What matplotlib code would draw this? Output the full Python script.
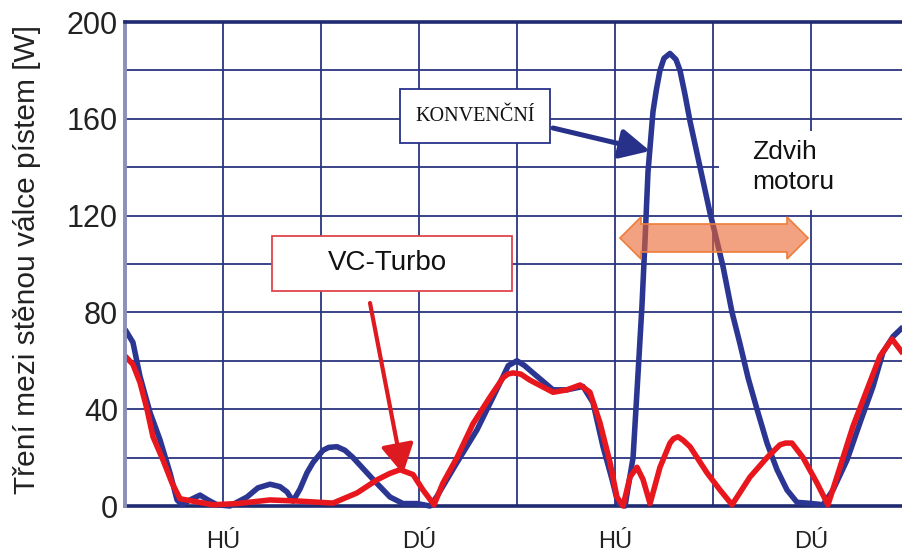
import matplotlib
matplotlib.use('Agg')
import matplotlib.pyplot as plt
import matplotlib.patches as mpatches
from matplotlib.ticker import MultipleLocator, FixedLocator, NullFormatter

# ---------------- data (crank angle in degrees, HÚ = 0) ----------------
crank_konv = [-90, -82.7, -76.2, -67.0, -57.9, -48.7, -42.2, -37.7, -30.3, -21.1,
              -13.8, -5.5, 6.4, 22.0, 32.1, 43.2, 52.3, 58.8, 64.3, 70.7,
              77.1, 82.7, 91.8, 97.0, 104.7, 112.0, 119.4, 137.8, 153.4, 165.3, 178.2, 190.1,
              196.5, 205.7, 214.9, 233.3, 248.0, 257.2, 262.0, 270.0, 277.0, 284.7, 303.1, 315.9,
              330.6, 339.8, 349.0, 357.3, 362.8, 369.2, 376.6, 381.2, 384.8, 387.6,
              390.3, 394.9, 398.0, 401.3, 405.0, 410.5, 416.0, 419.7, 424.3, 428.9, 438.1,
              447.3, 452.8, 459.2, 467.5, 474.8, 482.2, 490.4, 499.6, 508.8, 518.0, 527.2,
              536.3, 545.5, 551.0, 560.2, 573.1, 585.0, 597.0, 606.1, 615.3, 624.5]
friction_konv = [73, 67.6, 53.5, 38.6, 27.4, 13.7, 2.5, 0.5, 2.5, 4.5,
                 2.5, 0.5, 0, 3.7, 7.5, 9, 8, 5.8, 2, 7,
                 13.7, 18, 23, 24.2, 24.5, 23, 20, 11, 3.7, 1, 1, 0,
                 4, 11, 18, 31.5, 45, 53.5, 58, 60, 58, 55, 48, 48,
                 49.4, 42.7, 24.5, 11, 1, 0, 20, 55, 83, 110,
                 138, 163, 172, 180, 185, 187, 184.5, 180, 170, 159, 140,
                 121, 111, 99, 80, 67, 53, 40, 26, 15, 6.6, 1.5,
                 1.2, 0.8, 0.5, 6.6, 19, 34.4, 49.4, 63.5, 70, 74]

crank_vc = [-90, -82.7, -76.2, -69.8, -64.3, -55.1, -46.8, -39.5, -27.6, -9.2,
            12.9, 43.2, 70.7, 101.0, 123.1, 141.4, 153.4, 162.6, 174.5, 183.7,
            193.8, 202.0, 214.9, 229.6, 245.2, 257.2, 261.5, 266.3, 273.5, 281.9, 303.1, 315.9,
            327.9, 337.0, 346.2, 355.4, 361.8, 367.4, 373.8, 380.2, 385.7, 392.2,
            401.3, 410.5, 413.7, 417.9, 422.5, 428.9, 444.5, 456.5, 467.5, 484.0, 499.6, 511.5,
            516.6, 522.5, 532.7, 545.5, 555.6, 566.6, 578.6, 591.4, 603.4, 614.4, 624.5]
friction_vc = [62, 58.5, 51, 40, 28.6, 19, 9.5, 3, 2, 0.5,
               1, 2.5, 2, 1.2, 5.4, 10.8, 13.5, 15, 13, 6.6,
               0.5, 9.5, 20, 34, 45, 53, 54.5, 55, 54.5, 52, 47, 48,
               50, 47, 34.4, 18, 3.7, 0, 12, 16, 11, 1,
               16, 26, 27.8, 28.6, 27.2, 24.5, 13.7, 6.6, 0.5, 12, 20, 25.3,
               26, 26, 20, 9.5, 0.5, 16, 33, 48, 62, 69, 63]

stroke_ticks = [0, 180, 360, 540]
stroke_labels = ['HÚ', 'DÚ', 'HÚ', 'DÚ']
y_ticks = [0, 40, 80, 120, 160, 200]
y_label = 'Tření mezi stěnou válce pístem [W]'
label_konv = 'KONVENČNÍ'
label_vc = 'VC-Turbo'
label_stroke = 'Zdvih\nmotoru'

# ---------------- styling ----------------
NAVY = '#27318a'
GRID = '#2c3580'
BLUE = '#2b3692'
RED = '#e8161d'
TXT = '#222222'

X_MIN, X_MAX = -90, 624.5
Y_MIN, Y_MAX = 0, 200

W, H = 903, 553
fig = plt.figure(figsize=(W / 100, H / 100), dpi=100)
ax_l, ax_r, ax_t, ax_b = 125, 903, 22, 506
ax = fig.add_axes([ax_l / W, (H - ax_b) / H, (ax_r - ax_l) / W, (ax_b - ax_t) / H])
ax.set_xlim(X_MIN, X_MAX)
ax.set_ylim(Y_MIN, Y_MAX)

xpp = (X_MAX - X_MIN) / (ax_r - ax_l)   # data x per pixel
ypp = (Y_MAX - Y_MIN) / (ax_b - ax_t)   # data y per pixel

def px(xp, yp):
    """pixel position in the reference -> data coordinates (for annotations)"""
    return X_MIN + (xp - ax_l) * xpp, Y_MIN + (ax_b - yp) * ypp

fam = ['Liberation Sans', 'DejaVu Sans']

# grid
ax.xaxis.set_major_locator(FixedLocator(stroke_ticks))
ax.xaxis.set_minor_locator(MultipleLocator(90))
ax.xaxis.set_minor_formatter(NullFormatter())
ax.set_xticklabels(stroke_labels, fontsize=17, family=fam, color=TXT)
ax.yaxis.set_major_locator(FixedLocator(y_ticks))
ax.yaxis.set_minor_locator(MultipleLocator(20))
ax.yaxis.set_minor_formatter(NullFormatter())
ax.set_yticklabels([str(v) for v in y_ticks], fontsize=22, family=fam, color=TXT)
ax.tick_params(which='both', length=0)
ax.tick_params(axis='x', pad=18)
ax.tick_params(axis='y', pad=5)
ax.grid(True, which='both', color=GRID, lw=1.3)

ax.spines['right'].set_visible(False)
ax.spines['top'].set_color('#1f2a70')
ax.spines['top'].set_linewidth(2.6)
ax.spines['bottom'].set_color('#1f2a70')
ax.spines['bottom'].set_linewidth(2.6)
ax.spines['bottom'].set_zorder(1.9)
ax.spines['left'].set_color('#8a90bb')
ax.spines['left'].set_linewidth(2.8)

# white area behind "Zdvih motoru"
zx0, zy0 = px(719, 210)
zx1, zy1 = px(910, 131)
ax.add_patch(mpatches.Rectangle((zx0, zy0), zx1 - zx0, zy1 - zy0, facecolor='white',
                                edgecolor='none', zorder=1.8, clip_on=False))

# curves
ax.plot(crank_konv, friction_konv, color=BLUE, lw=4.0, zorder=2.2, clip_on=False,
        solid_joinstyle='round', solid_capstyle='butt')
ax.plot(crank_vc, friction_vc, color=RED, lw=4.0, zorder=2.4, clip_on=False,
        solid_joinstyle='round', solid_capstyle='butt')

# KONVENČNÍ box
bx0, by0 = px(400, 143)
bx1, by1 = px(550, 89)
ax.add_patch(mpatches.Rectangle((bx0, by0), bx1 - bx0, by1 - by0, facecolor='white',
                                edgecolor=NAVY, lw=1.3, zorder=3))
ax.text((bx0 + bx1) / 2, (by0 + by1) / 2, label_konv, fontsize=14.5,
        family=['Liberation Serif', 'DejaVu Serif'], color='#111111',
        ha='center', va='center', zorder=4)
ax.annotate('', xy=px(650, 151), xytext=px(553, 128),
            arrowprops=dict(arrowstyle='-|>,head_length=0.9,head_width=0.45',
                            mutation_scale=20, color=NAVY, lw=3.6,
                            shrinkA=0, shrinkB=0), zorder=4)

# VC-Turbo box
vx0, vy0 = px(272, 291)
vx1, vy1 = px(512, 236)
ax.add_patch(mpatches.Rectangle((vx0, vy0), vx1 - vx0, vy1 - vy0, facecolor='white',
                                edgecolor='#e0454b', lw=1.3, zorder=3))
ax.text((vx0 + vx1) / 2 - 4, (vy0 + vy1) / 2, label_vc, fontsize=20, family=fam,
        color='#111111', ha='center', va='center', zorder=4)
ax.annotate('', xy=px(403, 474), xytext=px(370, 303),
            arrowprops=dict(arrowstyle='-|>,head_length=0.9,head_width=0.5',
                            mutation_scale=20, color='#dd1a20', lw=3.0,
                            shrinkA=0, shrinkB=0), zorder=4)

# double arrow "Zdvih motoru"
body_px = 28
aspect = ypp / xpp
h = body_px * ypp
hs = h / aspect
dx = hs / 2
dxx = dx / 2
tipL, cy = px(620, 238)
tipR, _ = px(808, 238)
x0 = tipL + dx
x1 = tipR - dx - dxx
darrow = mpatches.FancyBboxPatch((x0, cy - h / 2), x1 - x0, h,
                                 boxstyle='darrow,pad=0', mutation_aspect=aspect,
                                 facecolor='#eb642d', alpha=0.6, edgecolor='none',
                                 zorder=3)
ax.add_patch(darrow)
darrow_edge = mpatches.FancyBboxPatch((x0, cy - h / 2), x1 - x0, h,
                                      boxstyle='darrow,pad=0', mutation_aspect=aspect,
                                      facecolor='none', edgecolor='#ee7d3a', lw=1.2,
                                      zorder=3.1)
ax.add_patch(darrow_edge)

tx, ty = px(752, 140)
ax.text(tx, ty, label_stroke, fontsize=19, family=fam, color='#111111',
        ha='left', va='top', linespacing=1.3, zorder=4)

# y label
fig.text(27 / W, (H - 260) / H, y_label, rotation=90, fontsize=21.5, family=fam,
         color=TXT, ha='center', va='center')

fig.savefig('out.png', dpi=100)
